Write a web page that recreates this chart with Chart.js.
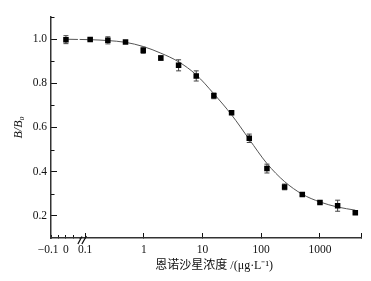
<!DOCTYPE html>
<html>
<head>
<meta charset="utf-8">
<script src="https://cdn.jsdelivr.net/npm/chart.js@4.4.0/dist/chart.umd.min.js"></script>
<style>
  html, body { margin: 0; padding: 0; background: #fff; }
  #wrap { width: 371px; height: 281px; }
</style>
</head>
<body>
<div id="wrap"><canvas id="chart"></canvas></div>
<script>
// measured points, B/B0 against concentration (µg/L)
const concentrations = [0, 0.122, 0.244, 0.488, 0.977, 1.95, 3.91, 7.81, 15.6, 31.25, 62.5, 125, 250, 500, 1000, 2000, 4000];
const ratios = [0.997, 0.998, 0.994, 0.987, 0.949, 0.914, 0.881, 0.833, 0.743, 0.667, 0.551, 0.414, 0.331, 0.297, 0.261, 0.246, 0.214];
const errors = [0.018, 0.006, 0.016, 0.006, 0.014, 0.010, 0.025, 0.023, 0.013, 0.006, 0.019, 0.020, 0.013, 0.006, 0.006, 0.025, 0.005];

// fitted curve
const fitX = [0, 0.08, 0.122, 0.244, 0.488, 0.977, 1.95, 3.91, 7.81, 15.6, 31.25, 62.5, 125, 250, 500, 1000, 2000, 4000];
const fitY = [0.999, 0.998, 0.997, 0.993, 0.985, 0.966, 0.936, 0.897, 0.838, 0.752, 0.657, 0.546, 0.437, 0.355, 0.298, 0.263, 0.240, 0.226];

// axis ticks
const yTicks = [0.2, 0.4, 0.6, 0.8, 1.0];
const yMinorTicks = [0.3, 0.5, 0.7, 0.9, 1.1];
const linTicks = [-0.1, -0.05, 0, 0.05];
const linLabels = ['\u22120.1  ', '', '0', ''];
const logTicks = [0.1, 1, 10, 100, 1000, 5000];
const logLabels = ['0.1', '1', '10', '100', '1000', ''];

const serif = "'Liberation Serif', 'Times New Roman', serif";
const tickFont = { family: serif, size: 11.5 };
const ink = '#111';

const points = concentrations.map((x, i) => ({ x: x, y: ratios[i], e: errors[i] }));
const curve = fitX.map((x, i) => ({ x: x, y: fitY[i] }));

const markerStyle = {
  pointStyle: 'rect',
  pointRadius: 3.9,
  pointHoverRadius: 3.9,
  backgroundColor: '#000',
  borderWidth: 0,
  errorBars: true,
  order: 0
};
const curveStyle = {
  showLine: true,
  pointRadius: 0,
  borderColor: '#555',
  borderWidth: 1,
  cubicInterpolationMode: 'monotone',
  order: 2
};

// error bars drawn from the data through the scales
const errorBars = {
  id: 'errorBars',
  beforeDatasetsDraw(chart) {
    const ctx = chart.ctx;
    const y = chart.scales.y;
    ctx.save();
    ctx.strokeStyle = '#444';
    ctx.lineWidth = 1;
    chart.data.datasets.forEach((ds) => {
      if (!ds.errorBars) return;
      const xs = chart.scales[ds.xAxisID];
      ds.data.forEach((d) => {
        const px = xs.getPixelForValue(d.x);
        const top = y.getPixelForValue(d.y + d.e);
        const bot = y.getPixelForValue(d.y - d.e);
        ctx.beginPath();
        ctx.moveTo(px, top); ctx.lineTo(px, bot);
        ctx.moveTo(px - 2.5, top); ctx.lineTo(px + 2.5, top);
        ctx.moveTo(px - 2.5, bot); ctx.lineTo(px + 2.5, bot);
        ctx.stroke();
      });
    });
    ctx.restore();
  }
};

// minor y ticks and the axis break
const axisExtras = {
  id: 'axisExtras',
  afterDraw(chart) {
    const ctx = chart.ctx;
    const y = chart.scales.y;
    const area = chart.chartArea;
    ctx.save();
    ctx.strokeStyle = ink;
    ctx.lineWidth = 1;
    yMinorTicks.forEach((v) => {
      const py = Math.round(y.getPixelForValue(v)) + 0.5;
      ctx.beginPath();
      ctx.moveTo(area.left, py);
      ctx.lineTo(area.left + 3.5, py);
      ctx.stroke();
    });
    const bx = chart.scales.xl.right;
    const by = area.bottom;
    ctx.lineWidth = 1.3;
    ctx.beginPath();
    ctx.moveTo(bx - 1.5, by + 6); ctx.lineTo(bx + 2.5, by - 1.5);
    ctx.moveTo(bx + 2.5, by + 6); ctx.lineTo(bx + 7, by - 2);
    ctx.stroke();
    ctx.restore();
  }
};

new Chart(document.getElementById('chart'), {
  type: 'scatter',
  data: {
    datasets: [
      Object.assign({ data: points.filter(p => p.x < 0.1), xAxisID: 'xl' }, markerStyle),
      Object.assign({ data: points.filter(p => p.x >= 0.1), xAxisID: 'xg' }, markerStyle),
      Object.assign({ data: curve.filter(p => p.x <= 0.08), xAxisID: 'xl' }, curveStyle),
      Object.assign({ data: curve.filter(p => p.x >= 0.08), xAxisID: 'xg' }, curveStyle)
    ]
  },
  options: {
    responsive: true,
    maintainAspectRatio: false,
    animation: false,
    layout: { padding: { left: 0, right: 9, top: 5, bottom: 0 } },
    plugins: {
      legend: { display: false },
      tooltip: { enabled: false }
    },
    scales: {
      xl: {
        type: 'linear',
        position: 'bottom',
        stack: 'x',
        stackWeight: 28.5,
        min: -0.1,
        max: 0.09,
        afterBuildTicks: (s) => { s.ticks = linTicks.map(v => ({ value: v })); },
        afterFit: (s) => { s.height = 43; },
        ticks: {
          autoSkip: false, maxRotation: 0, padding: 8,
          font: tickFont, color: ink,
          callback: (v, i) => linLabels[i]
        },
        grid: { drawOnChartArea: false, tickLength: -3, tickColor: ink, tickWidth: 1 },
        border: { color: '#333', width: 1.5 }
      },
      xg: {
        type: 'logarithmic',
        position: 'bottom',
        stack: 'x',
        stackWeight: 282.5,
        min: 0.08,
        max: 5000,
        afterBuildTicks: (s) => { s.ticks = logTicks.map(v => ({ value: v })); },
        afterFit: (s) => { s.height = 43; },
        ticks: {
          autoSkip: false, maxRotation: 0, padding: 10,
          font: tickFont, color: ink,
          callback: (v, i) => logLabels[i]
        },
        grid: { drawOnChartArea: false, tickLength: -5, tickColor: ink, tickWidth: 1 },
        border: { color: '#333', width: 1.5 },
        title: {
          display: true,
          text: '恩诺沙星浓度 /(μg·L⁻¹)    ',
          color: ink,
          font: { family: serif + ", 'Noto Sans CJK SC'", size: 12 },
          padding: { top: 0, bottom: 8 }
        }
      },
      y: {
        type: 'linear',
        position: 'left',
        min: 0.1,
        max: 1.1,
        afterBuildTicks: (s) => { s.ticks = yTicks.map(v => ({ value: v })); },
        afterFit: (s) => { s.width = 51; },
        ticks: {
          padding: 10, font: tickFont, color: ink,
          callback: (v) => v.toFixed(1)
        },
        grid: { drawOnChartArea: false, tickLength: -6, tickColor: ink, tickWidth: 1 },
        border: { color: '#333', width: 1.5 },
        title: {
          display: true,
          text: 'B/B₀',
          color: ink,
          font: { family: serif, size: 12, style: 'italic' },
          padding: { top: 12, bottom: 0 }
        }
      }
    }
  },
  plugins: [errorBars, axisExtras]
});
</script>
</body>
</html>
